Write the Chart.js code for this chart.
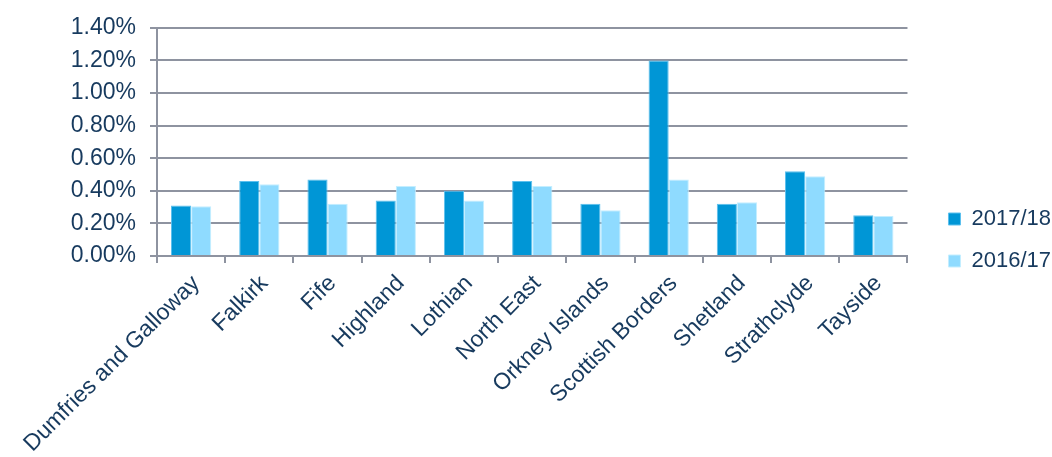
<!DOCTYPE html>
<html lang="en">
<head>
    <meta charset="UTF-8">
    <title>Rates by region</title>
    <script src="https://cdn.jsdelivr.net/npm/chart.js"></script>
    <style>
        body { margin: 0; background: #fff; }
        .wrap { width: 1052px; height: 457px; position: relative; }
    </style>
</head>
<body>

<div class="wrap">
    <canvas id="regionChart"></canvas>
</div>

<script>
    // Data (percent values)
    const regions = ['Dumfries and Galloway', 'Falkirk', 'Fife', 'Highland', 'Lothian', 'North East',
        'Orkney Islands', 'Scottish Borders', 'Shetland', 'Strathclyde', 'Tayside'];
    const rate1718 = [0.31, 0.46, 0.47, 0.34, 0.40, 0.46, 0.32, 1.20, 0.32, 0.52, 0.25];
    const rate1617 = [0.305, 0.44, 0.32, 0.43, 0.34, 0.43, 0.28, 0.47, 0.33, 0.49, 0.245];
    const yTicks = [0, 0.2, 0.4, 0.6, 0.8, 1.0, 1.2, 1.4];

    const textColour = '#173a5e';
    const gridColour = '#8e93a0';
    const fontFamily = "'Liberation Sans', Arial, sans-serif";

    // plot ends at x=906, but the legend items start further right than Chart.js puts them
    const legendNudge = {
        id: 'legendNudge',
        afterLayout(chart) {
            chart.legend.left += 21;
            chart.legend.right += 21;
        }
    };

    let ctx = document.getElementById('regionChart').getContext('2d');
    let regionChart = new Chart(ctx, {
        type: 'bar',
        data: {
            labels: regions,
            datasets: [{
                label: '2017/18',
                data: rate1718,
                backgroundColor: '#0096d6',
                borderColor: '#5cc0ee',
                borderWidth: 1
            }, {
                label: '2016/17',
                data: rate1617,
                backgroundColor: '#8fdbff',
                borderColor: '#c4eeff',
                borderWidth: 1
            }]
        },
        plugins: [legendNudge],
        options: {
            responsive: true,
            maintainAspectRatio: false,
            animation: false,
            datasets: {
                bar: { categoryPercentage: 0.59, barPercentage: 1 }
            },
            layout: { padding: { top: 23, right: 12, bottom: 0, left: 0 } },
            plugins: {
                tooltip: { enabled: false },
                legend: {
                    position: 'right',
                    align: 'center',
                    labels: {
                        color: textColour,
                        font: { family: fontFamily, size: 22 },
                        boxWidth: 12,
                        boxHeight: 12,
                        padding: 20
                    }
                }
            },
            scales: {
                x: {
                    afterFit: axis => { axis.height = 201; },
                    grid: {
                        drawOnChartArea: false,
                        color: gridColour,
                        lineWidth: 2,
                        tickLength: 7
                    },
                    border: { color: gridColour, width: 2 },
                    ticks: {
                        color: textColour,
                        font: { family: fontFamily, size: 23 },
                        autoSkip: false,
                        minRotation: 45,
                        maxRotation: 45,
                        labelOffset: 5,
                        padding: 7
                    }
                },
                y: {
                    min: 0,
                    max: 1.4,
                    afterBuildTicks: axis => { axis.ticks = yTicks.map(v => ({ value: v })); },
                    afterFit: axis => { axis.width = 157; },
                    grid: {
                        color: gridColour,
                        lineWidth: 2,
                        tickLength: 7
                    },
                    border: { color: gridColour, width: 2 },
                    ticks: {
                        color: textColour,
                        font: { family: fontFamily, size: 23 },
                        padding: 14,
                        callback: v => v.toFixed(2) + '%'
                    }
                }
            }
        }
    });
</script>

</body>
</html>
